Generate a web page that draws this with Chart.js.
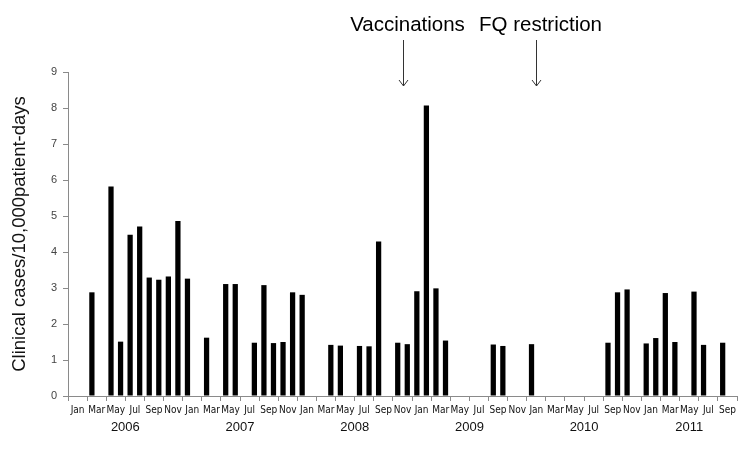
<!DOCTYPE html>
<html>
<head>
<meta charset="utf-8">
<script src="https://cdn.jsdelivr.net/npm/chart.js@4/dist/chart.umd.min.js"></script>
<style>
  html, body { margin: 0; padding: 0; background: #fff; }
  #chart { display: block; }
</style>
</head>
<body>
<canvas id="chart" width="750" height="455"></canvas>
<script>
// ==========================
// DATA
// ==========================
const monthNames = ['Jan', 'Feb', 'Mar', 'Apr', 'May', 'Jun', 'Jul', 'Aug', 'Sep', 'Oct', 'Nov', 'Dec'];
const years = [2006, 2007, 2008, 2009, 2010, 2011];
const monthsInYear = [12, 12, 12, 12, 12, 10]; // 2011 runs Jan..Oct

// clinical cases / 10,000 patient-days, one value per month (null = no case)
const cases = [
  null, null, 2.88, null, 5.82, 1.51, 4.48, 4.71, 3.29, 3.23, 3.32, 4.86,   // 2006
  3.26, null, 1.62, null, 3.11, 3.11, null, 1.48, 3.08, 1.47, 1.50, 2.88,   // 2007
  2.81, null, null, 1.42, 1.40, null, 1.39, 1.38, 4.29, null, 1.48, 1.44,   // 2008
  2.91, 8.07, 2.99, 1.54, null, null, null, null, 1.43, 1.39, null, null,   // 2009
  1.44, null, null, null, null, null, null, null, 1.48, 2.88, 2.96, null,   // 2010
  1.46, 1.61, 2.86, 1.50, null, 2.90, 1.42, null, 1.48, null                // 2011
];

// interventions: arrow sits at the start of the given month index
const eventLabels = ['Vaccinations', 'FQ restriction'];
const eventMonths = [35, 49];

const labels = [];
years.forEach((y, yi) => {
  for (let m = 0; m < monthsInYear[yi]; m++) labels.push(monthNames[m]);
});

const FONT = "'Liberation Sans', Arial, sans-serif";
const NARROW = "'DejaVu Sans Condensed', 'Liberation Sans', sans-serif";
const AXIS = '#8a8a8a';

// ==========================
// PLUGINS
// ==========================
const yearLabels = {
  id: 'yearLabels',
  afterDraw(chart) {
    const ctx = chart.ctx;
    const xs = chart.scales.x;
    ctx.save();
    ctx.font = '13px ' + FONT;
    ctx.fillStyle = '#111';
    ctx.textAlign = 'center';
    ctx.textBaseline = 'middle';
    let start = 0;
    years.forEach((y, yi) => {
      const end = start + monthsInYear[yi] - 1;
      const x = (xs.getPixelForValue(start) + xs.getPixelForValue(end)) / 2;
      ctx.fillText(String(y), x, chart.chartArea.bottom + 31);
      start = end + 1;
    });
    ctx.restore();
  }
};

const eventArrows = {
  id: 'eventArrows',
  afterDraw(chart) {
    const ctx = chart.ctx;
    const xs = chart.scales.x;
    const top = chart.chartArea.top;
    ctx.save();
    eventLabels.forEach((txt, i) => {
      const idx = eventMonths[i];
      const x = Math.round((xs.getPixelForValue(idx - 1) + xs.getPixelForValue(idx)) / 2) + 0.5;
      ctx.font = '20.5px ' + FONT;
      ctx.fillStyle = '#000';
      ctx.textAlign = 'center';
      ctx.textBaseline = 'alphabetic';
      ctx.fillText(txt, x + 4, top - 41);
      ctx.strokeStyle = '#333';
      ctx.lineWidth = 1;
      ctx.beginPath();
      ctx.moveTo(x, top - 32);
      ctx.lineTo(x, top + 14);
      ctx.moveTo(x - 4.5, top + 8);
      ctx.lineTo(x, top + 14);
      ctx.lineTo(x + 4.5, top + 8);
      ctx.stroke();
    });
    ctx.restore();
  }
};

// ==========================
// CHART
// ==========================
new Chart(document.getElementById('chart'), {
  type: 'bar',
  data: {
    labels: labels,
    datasets: [{
      data: cases,
      backgroundColor: '#000',
      borderWidth: 0,
      barPercentage: 0.55,
      categoryPercentage: 1.0
    }]
  },
  options: {
    responsive: false,
    animation: false,
    layout: { padding: { top: 72, right: 13, left: 0, bottom: 0 } },
    plugins: { legend: { display: false }, tooltip: { enabled: false } },
    scales: {
      x: {
        offset: true,
        grid: {
          offset: true,
          drawOnChartArea: false,
          tickLength: 5,
          color: c => (c.type !== 'tick' || c.index % 2 === 0) ? AXIS : 'rgba(0,0,0,0)'
        },
        border: { color: AXIS },
        ticks: {
          autoSkip: false,
          maxRotation: 0,
          minRotation: 0,
          labelOffset: 4.8,
          padding: 3,
          color: '#111',
          font: { size: 10, family: NARROW },
          callback: (v, i) => (i % 2 === 0 ? labels[i] : '')
        },
        afterFit(s) { s.height = 59; }
      },
      y: {
        min: 0,
        max: 9,
        ticks: { stepSize: 1, padding: 6, color: '#444', font: { size: 11, family: FONT } },
        grid: { drawOnChartArea: false, tickLength: 5, color: AXIS },
        border: { color: AXIS },
        title: {
          display: true,
          text: 'Clinical cases/10,000patient-days',
          color: '#111',
          font: { size: 18.5, family: FONT },
          padding: { top: 9, bottom: 0 }
        },
        afterFit(s) { s.width = 68; }
      }
    }
  },
  plugins: [yearLabels, eventArrows]
});
</script>
</body>
</html>
